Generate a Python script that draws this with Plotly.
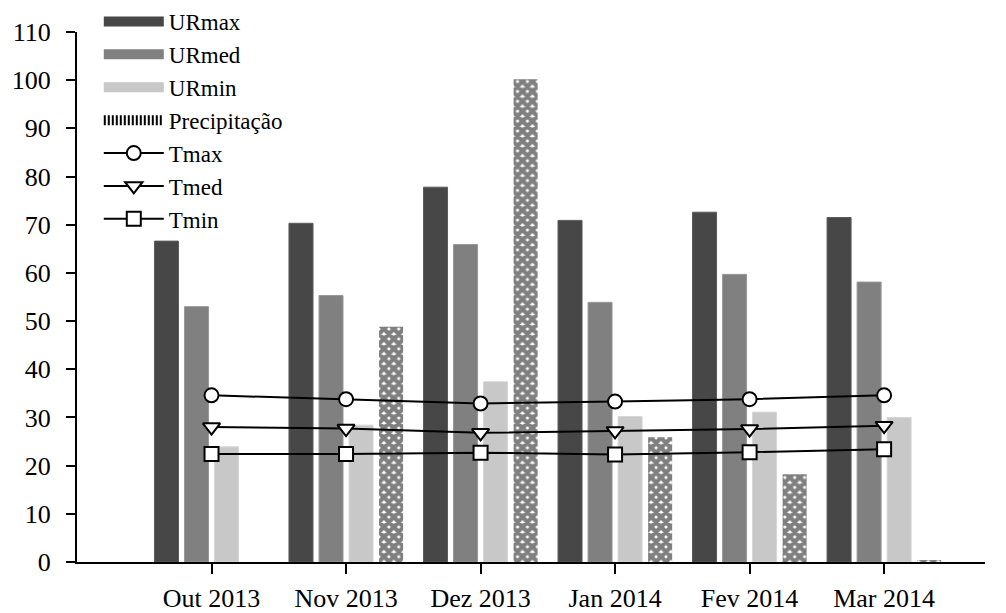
import plotly.graph_objects as go

categories = ["Out 2013", "Nov 2013", "Dez 2013", "Jan 2014", "Fev 2014", "Mar 2014"]
ur_max = [66.6, 70.3, 77.8, 70.9, 72.6, 71.5]
ur_med = [53.0, 55.3, 65.9, 53.9, 59.7, 58.1]
ur_min = [23.9, 28.4, 37.4, 30.2, 31.1, 30.0]
precip = [0.0, 48.8, 100.2, 25.9, 18.2, 0.4]
t_max = [34.6, 33.8, 32.9, 33.3, 33.8, 34.6]
t_med = [28.0, 27.7, 26.8, 27.2, 27.6, 28.3]
t_min = [22.4, 22.4, 22.7, 22.3, 22.8, 23.4]

FONT = "Liberation Serif, Times New Roman, Tinos, DejaVu Serif, serif"
C_MAX, C_MED, C_MIN = "#474747", "#808080", "#c8c8c8"

fig = go.Figure()
fig.add_trace(go.Bar(x=categories, y=ur_max, name="URmax", showlegend=False,
                     marker=dict(color=C_MAX, line=dict(width=1, color="#5c5c5c"))))
fig.add_trace(go.Bar(x=categories, y=ur_med, name="URmed", showlegend=False,
                     marker=dict(color=C_MED, line=dict(width=1, color="#999999"))))
fig.add_trace(go.Bar(x=categories, y=ur_min, name="URmin", showlegend=False,
                     marker=dict(color=C_MIN, line=dict(width=1, color="#d6d6d6"))))
fig.add_trace(go.Bar(x=categories, y=precip, name="Precipitação", showlegend=False,
                     marker=dict(color="white", line=dict(width=0),
                                 pattern=dict(shape="x", fgcolor="black", bgcolor="white",
                                              size=7, solidity=0.85))))

# legend-only entries with wide swatches
for name, col, dash in [("URmax", C_MAX, "solid"), ("URmed", C_MED, "solid"),
                        ("URmin", C_MIN, "solid"), ("Precipitação", "black", "2px,2px")]:
    fig.add_trace(go.Scatter(x=[None], y=[None], name=name, mode="lines",
                             line=dict(color=col, width=11, dash=dash)))

for name, vals, sym, sz in [("Tmax", t_max, "circle", 14),
                            ("Tmed", t_med, "triangle-down", 15),
                            ("Tmin", t_min, "square", 14)]:
    fig.add_trace(go.Scatter(x=categories, y=vals, name=name, mode="lines+markers",
                             line=dict(color="black", width=2),
                             marker=dict(symbol=sym, size=sz, color="white",
                                         line=dict(color="black", width=2))))

fig.update_layout(
    width=1006, height=613,
    margin=dict(l=77, r=21, t=0, b=51),
    plot_bgcolor="white", paper_bgcolor="white",
    barmode="group", bargap=0.107, bargroupgap=0.2,
    font=dict(family=FONT, size=26, color="black"),
    showlegend=True,
    legend=dict(x=0.024, y=1.0, xanchor="left", yanchor="top",
                font=dict(family=FONT, size=23, color="black"),
                bgcolor="rgba(0,0,0,0)", itemwidth=60, traceorder="normal"),
)
fig.update_xaxes(type="category", range=[-1.0, 5.75], showline=True, linecolor="black",
                 linewidth=2, ticks="outside", ticklen=10, tickwidth=2, tickcolor="black",
                 showgrid=False, zeroline=False, ticklabelstandoff=2, automargin=False,
                 tickfont=dict(family=FONT, size=26))
fig.update_yaxes(range=[0, 110], domain=[0, 530 / 562], tickvals=list(range(0, 111, 10)),
                 showline=True, automargin=False, ticklabelstandoff=10,
                 linecolor="black", linewidth=2, ticks="outside", ticklen=9, tickwidth=2,
                 tickcolor="black", showgrid=False, zeroline=False,
                 tickfont=dict(family=FONT, size=26))

fig.write_html("out.html", config={"displayModeBar": False},
               post_script="document.body.style.margin='0px';")
